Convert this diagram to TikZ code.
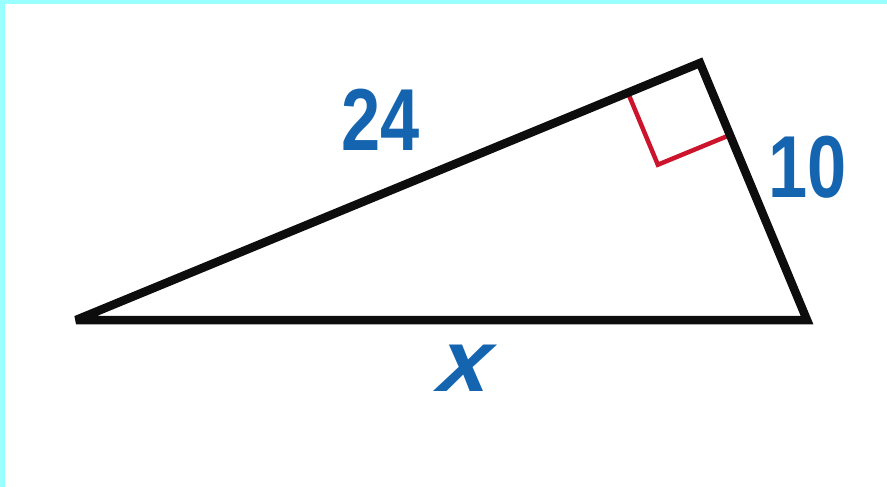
\documentclass[tikz,border=0pt]{standalone}
\usepackage{fontspec}
\setmainfont{Liberation Sans}[FakeStretch=0.8]
\newfontfamily\xfont{Liberation Sans}[FakeSlant=0.12, FakeStretch=1.05]
\usetikzlibrary{calc}
\definecolor{lblblue}{RGB}{20,100,175}
\definecolor{mkred}{RGB}{205,20,45}
\definecolor{edgecyan}{RGB}{153,255,255}
\begin{document}
\begin{tikzpicture}[x=1pt,y=-1pt,
  edge/.style={line width=8.5pt, line join=miter, miter limit=4, draw=black!95},
  mark90/.style={line width=4.5pt, draw=mkred, line join=miter},
  lbl/.style={text=lblblue, inner sep=0pt, font=\fontsize{88}{88}\selectfont\bfseries}]
\path[use as bounding box] (0,0) rectangle (887,487);
\fill[edgecyan] (0,0) rectangle (887,4);
\fill[edgecyan] (0,0) rectangle (5,487);
\coordinate (A) at (76,320);
\coordinate (B) at (700,63);
\coordinate (C) at (807,320);
\coordinate (P) at ($(B)!78pt!(A)$);
\coordinate (Q) at ($(B)!78pt!(C)$);
\coordinate (R) at ($(P)+(Q)-(B)$);
\draw[mark90] (P) -- (R) -- (Q);
\draw[edge] (A) -- (B) -- (C) -- cycle;
\node[lbl] (l24) at (381,120) {24};
\node[lbl] (l10) at (808,167) {10};
\node[lbl, font=\fontsize{88}{88}\selectfont\xfont\bfseries\itshape] (lx) at (463,368) {x};
\end{tikzpicture}
\end{document}
